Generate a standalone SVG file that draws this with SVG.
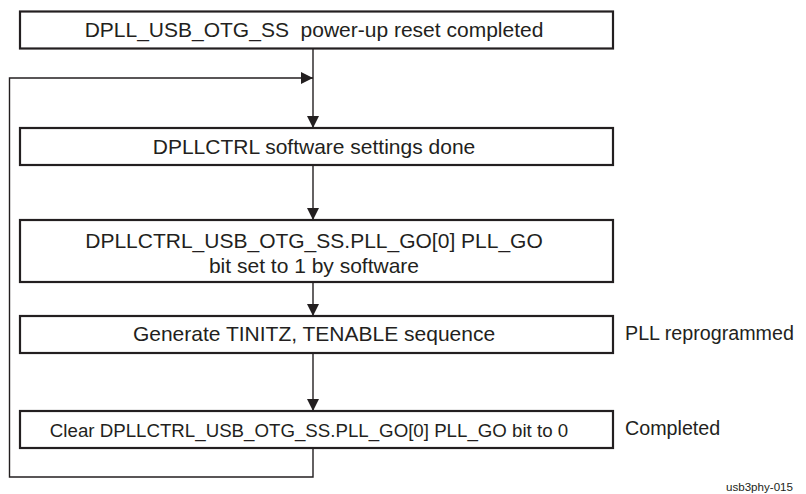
<svg xmlns="http://www.w3.org/2000/svg" width="806" height="494" viewBox="0 0 806 494">
<style>
.box{fill:#fff;stroke:#231f20;stroke-width:2.2}
.t{font-family:"Liberation Sans",Arial,sans-serif;font-size:21px;fill:#231f20;text-anchor:middle}
.s{font-family:"Liberation Sans",Arial,sans-serif;font-size:18.7px;fill:#231f20;text-anchor:middle}
.lab{font-family:"Liberation Sans",Arial,sans-serif;font-size:19.7px;fill:#231f20}
.id{font-family:"Liberation Sans",Arial,sans-serif;font-size:11.6px;fill:#231f20;text-anchor:end}
.c{fill:none;stroke:#231f20;stroke-width:1.4}
</style>
<defs>
<marker id="ah" markerWidth="12" markerHeight="12" refX="12" refY="6" orient="auto" markerUnits="userSpaceOnUse">
<path d="M0,0 L12,6 L0,12 Z" fill="#231f20"/>
</marker>
</defs>
<rect width="806" height="494" fill="#fff"/>
<g id="connectors">
<line class="c" x1="313" y1="48" x2="313" y2="128" marker-end="url(#ah)"/>
<line class="c" x1="313" y1="165" x2="313" y2="220" marker-end="url(#ah)"/>
<line class="c" x1="313" y1="282" x2="313" y2="316" marker-end="url(#ah)"/>
<line class="c" x1="313" y1="353" x2="313" y2="411" marker-end="url(#ah)"/>
<polyline class="c" points="313,448 313,477 9.5,477 9.5,78 313,78" marker-end="url(#ah)"/>
</g>
<g id="n1">
<rect class="box" x="20" y="11.5" width="593" height="37"/>
<text class="t" x="314" y="37">DPLL_USB_OTG_SS&#160; power-up reset completed</text>
</g>
<g id="n2">
<rect class="box" x="20" y="128" width="593" height="37"/>
<text class="t" x="314" y="154">DPLLCTRL software settings done</text>
</g>
<g id="n3">
<rect class="box" x="20" y="220" width="593" height="62"/>
<text class="t" x="314" y="248">DPLLCTRL_USB_OTG_SS.PLL_GO[0] PLL_GO</text>
<text class="t" x="314" y="272.5">bit set to 1 by software</text>
</g>
<g id="n4">
<rect class="box" x="20" y="316" width="593" height="37"/>
<text class="t" x="314" y="341">Generate TINITZ, TENABLE sequence</text>
</g>
<g id="n5">
<rect class="box" x="20" y="411" width="593" height="37"/>
<text class="s" x="309" y="436.5">Clear DPLLCTRL_USB_OTG_SS.PLL_GO[0] PLL_GO bit to 0</text>
</g>
<g id="labels">
<text class="lab" x="625" y="340">PLL reprogrammed</text>
<text class="lab" x="625" y="435">Completed</text>
<text class="id" x="793" y="491">usb3phy-015</text>
</g>
</svg>
